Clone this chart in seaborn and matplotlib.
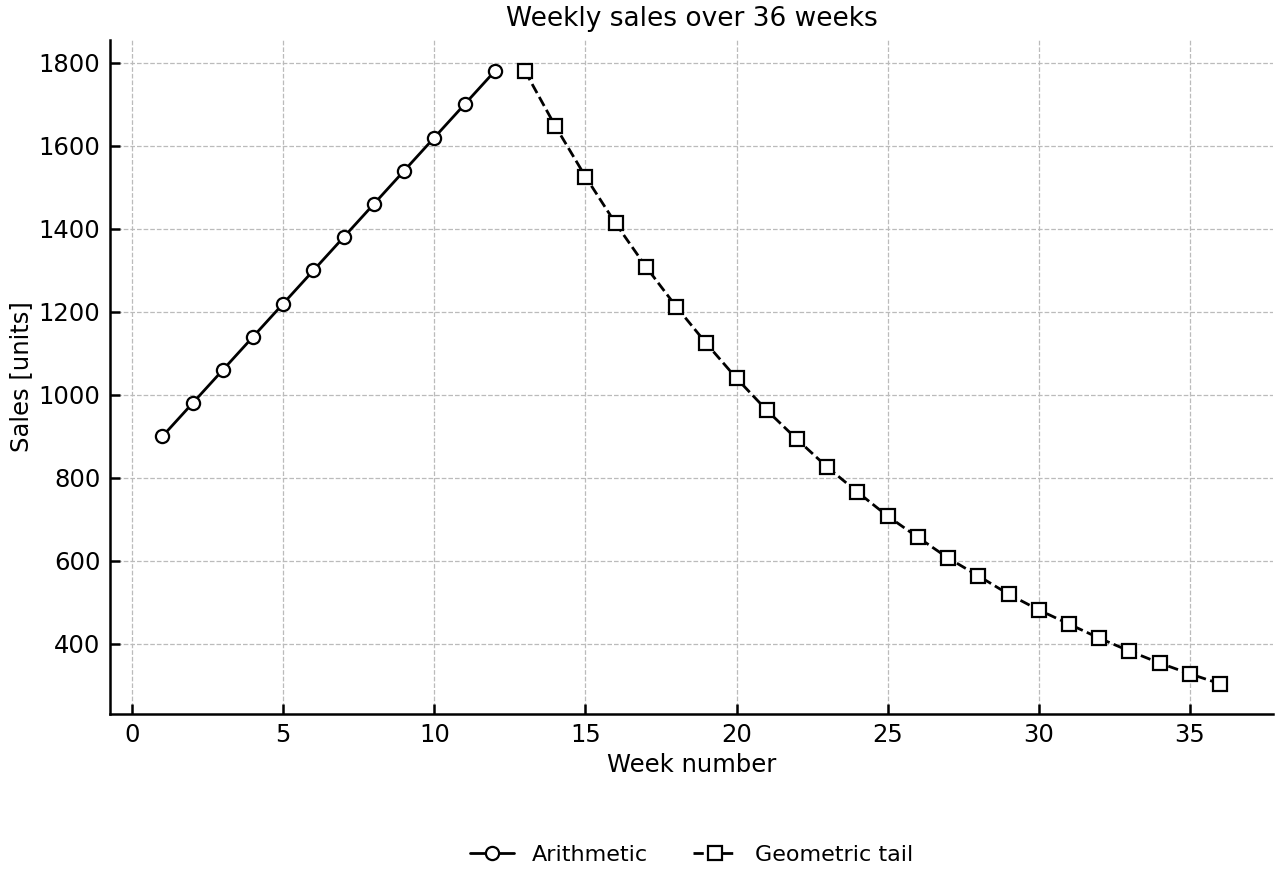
import numpy as np
import pandas as pd
import matplotlib
matplotlib.use("Agg")
import matplotlib.pyplot as plt
import seaborn as sns

# data
weeks_arith = list(range(1, 13))
sales_arith = [900, 980, 1060, 1140, 1220, 1300, 1380, 1460, 1540, 1620, 1700, 1780]
weeks_geom = list(range(13, 37))
sales_geom = [1780, 1648, 1526, 1413, 1309, 1213, 1124, 1040, 963, 893, 826, 766,
              708, 657, 607, 564, 520, 482, 448, 414, 383, 354, 328, 304]

sns.set_style("ticks")
plt.rcParams['font.family'] = ['DejaVu Sans']
plt.rcParams['text.color'] = 'black'
plt.rcParams['axes.labelcolor'] = 'black'
plt.rcParams['xtick.color'] = 'black'
plt.rcParams['ytick.color'] = 'black'
plt.rcParams['axes.edgecolor'] = 'black'

fig, ax = plt.subplots(figsize=(12.8, 8.8), dpi=100)
fig.subplots_adjust(left=0.086, right=0.9945, top=0.9545, bottom=0.189)

df_a = pd.DataFrame({"week": weeks_arith, "sales": sales_arith})
df_g = pd.DataFrame({"week": weeks_geom, "sales": sales_geom})

sns.lineplot(data=df_a, x="week", y="sales", ax=ax, color="black", lw=2,
             marker="o", markersize=9.5, markerfacecolor="white",
             markeredgecolor="black", markeredgewidth=1.6, label="Arithmetic")
sns.lineplot(data=df_g, x="week", y="sales", ax=ax, color="black", lw=2,
             linestyle="--", marker="s", markersize=9.5, markerfacecolor="white",
             markeredgecolor="black", markeredgewidth=1.6, label="Geometric tail")

ax.set_xlim(-0.73, 37.75)
ax.set_ylim(232, 1855)
ax.set_xticks(range(0, 36, 5))
ax.set_yticks(range(400, 1801, 200))
ax.grid(True, linestyle="--", color="#bbbbbb", lw=0.9)
ax.set_axisbelow(True)
sns.despine(ax=ax)
for s in ["left", "bottom"]:
    ax.spines[s].set_linewidth(1.8)
ax.tick_params(direction="in", length=7, width=1.8, labelsize=17.5, pad=7)

ax.set_title("Weekly sales over 36 weeks", fontsize=19, pad=10)
ax.set_xlabel("Week number", fontsize=17.5, labelpad=4)
ax.set_ylabel("Sales [units]", fontsize=17.5, labelpad=4)

ax.legend(loc="upper center", bbox_to_anchor=(0.5, -0.165), ncol=2,
          frameon=False, fontsize=16, columnspacing=2.0, handlelength=2.0)

fig.savefig("out.png", dpi=100)
